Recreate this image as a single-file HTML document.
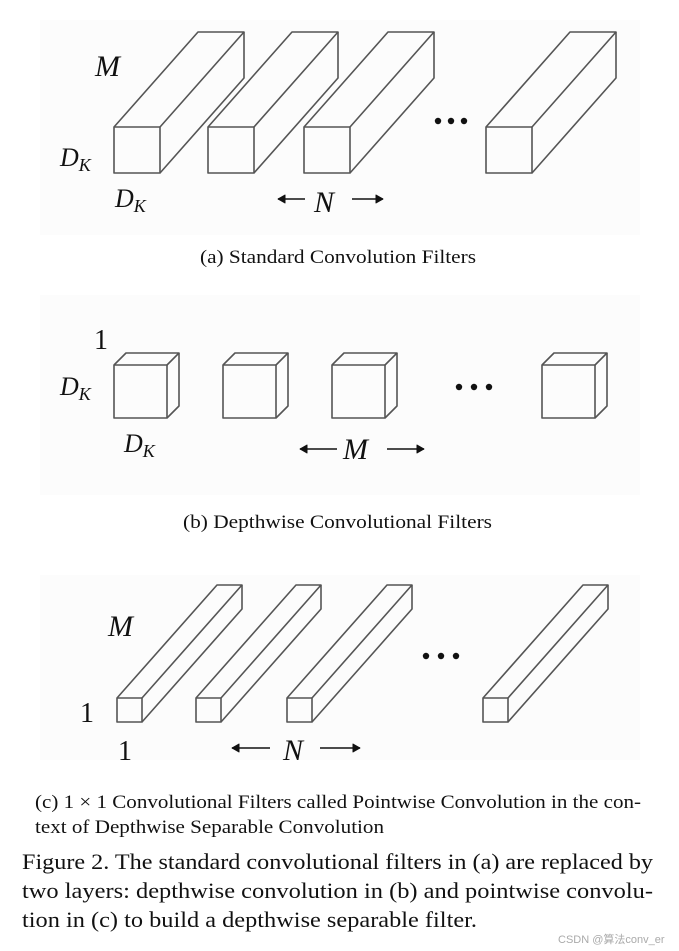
<!DOCTYPE html>
<html><head><meta charset="utf-8"><style>
html,body{margin:0;padding:0;background:#fff;}
svg{display:block;}
text{font-family:"Liberation Serif",serif;fill:#111;}
.it{font-style:italic;}
</style></head><body>
<svg id="s" width="679" height="951" viewBox="0 0 679 951" xmlns="http://www.w3.org/2000/svg">
<rect x="40" y="20" width="600" height="215" fill="#fcfcfc"/>
<rect x="40" y="295" width="600" height="200" fill="#fcfcfc"/>
<rect x="40" y="575" width="600" height="185" fill="#fcfcfc"/>
<g id="g" fill="none" stroke="#555" stroke-width="1.6" stroke-linejoin="round"></g>
<g fill="#111">
<circle cx="438" cy="121" r="3.2"/><circle cx="451" cy="121" r="3.2"/><circle cx="464" cy="121" r="3.2"/>
<circle cx="459" cy="387" r="3.2"/><circle cx="474" cy="387" r="3.2"/><circle cx="489" cy="387" r="3.2"/>
<circle cx="426" cy="656" r="3.2"/><circle cx="441" cy="656" r="3.2"/><circle cx="456" cy="656" r="3.2"/>
</g>
<!-- (a) labels -->
<text x="95" y="76" font-size="30" class="it">M</text>
<text x="60" y="166" font-size="26" class="it">D<tspan font-size="18" dy="5">K</tspan></text>
<text x="115" y="207" font-size="26" class="it">D<tspan font-size="18" dy="5">K</tspan></text>
<text x="314" y="212" font-size="30" class="it">N</text>
<!-- (b) labels -->
<text x="94" y="349" font-size="28">1</text>
<text x="60" y="395" font-size="26" class="it">D<tspan font-size="18" dy="5">K</tspan></text>
<text x="124" y="452" font-size="26" class="it">D<tspan font-size="18" dy="5">K</tspan></text>
<text x="343" y="459" font-size="30" class="it">M</text>
<!-- (c) labels -->
<text x="108" y="636" font-size="30" class="it">M</text>
<text x="80" y="722" font-size="28">1</text>
<text x="118" y="760" font-size="28">1</text>
<text x="283" y="760" font-size="30" class="it">N</text>
<!-- captions -->
<text x="200" y="263" font-size="19" textLength="276" lengthAdjust="spacingAndGlyphs">(a)  Standard Convolution Filters</text>
<text x="183" y="528" font-size="19" textLength="309" lengthAdjust="spacingAndGlyphs">(b)  Depthwise Convolutional Filters</text>
<text x="35" y="808" font-size="19" textLength="606" lengthAdjust="spacingAndGlyphs">(c)  1 × 1 Convolutional Filters called Pointwise Convolution in the con-</text>
<text x="35" y="833" font-size="19" textLength="349" lengthAdjust="spacingAndGlyphs">text of Depthwise Separable Convolution</text>
<text x="22" y="869" font-size="22" textLength="631" lengthAdjust="spacingAndGlyphs">Figure 2. The standard convolutional filters in (a) are replaced by</text>
<text x="22" y="898" font-size="22" textLength="631" lengthAdjust="spacingAndGlyphs">two layers:  depthwise convolution in (b) and pointwise convolu-</text>
<text x="22" y="927" font-size="22" textLength="455" lengthAdjust="spacingAndGlyphs">tion in (c) to build a depthwise separable filter.</text>
<text x="558" y="943" font-size="11" style="font-family:'Liberation Sans','Noto Sans CJK SC',sans-serif;fill:#aaa">CSDN @算法conv_er</text>
</svg>
<script>
var g=document.getElementById('g'),ns='http://www.w3.org/2000/svg';
function p(d,extra){var e=document.createElementNS(ns,'path');e.setAttribute('d',d);if(extra)for(var k in extra)e.setAttribute(k,extra[k]);g.appendChild(e);}
function box(x,y,w,h,dx,dy){
 p('M'+x+' '+y+'h'+w+'v'+h+'h'+(-w)+'Z');
 p('M'+x+' '+y+'l'+dx+' '+dy+'h'+w+'l'+(-dx)+' '+(-dy));
 p('M'+(x+w+dx)+' '+(y+dy)+'v'+h+'l'+(-dx)+' '+(-dy));
}
[114,208,304,486].forEach(function(x){box(x,127,46,46,84,-95);});
[114,223,332,542].forEach(function(x){box(x,365,53,53,12,-12);});
[117,196,287,483].forEach(function(x){box(x,698,25,24,100,-113);});
function arrow(x1,x2,y){
 p('M'+x1+' '+y+'H'+x2,{stroke:'#111'});
 var dir=x2>x1?1:-1;
 p('M'+x2+' '+y+'l'+(-7*dir)+' -4v8Z',{fill:'#111',stroke:'#111','stroke-width':'1'});
}
arrow(305,278,199);arrow(352,383,199);
arrow(337,300,449);arrow(387,424,449);
arrow(270,232,748);arrow(320,360,748);
</script>
</body></html>
